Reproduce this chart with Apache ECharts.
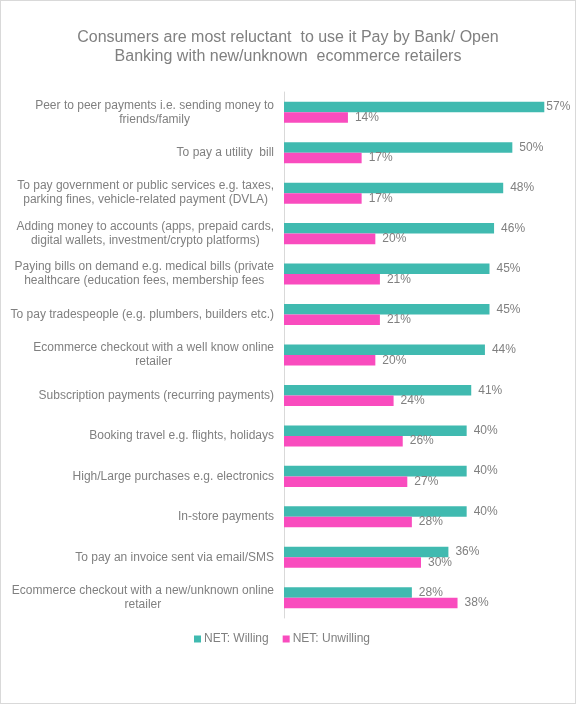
<!DOCTYPE html>
<html>
<head>
<meta charset="utf-8">
<script src="https://cdn.jsdelivr.net/npm/echarts@6/dist/echarts.min.js"></script>
<style>
  html, body { margin: 0; padding: 0; background: #fff; }
  #wrap { width: 576px; height: 704px; box-sizing: border-box; border: 1px solid #d9d9d9; }
  #chart { width: 574px; height: 702px; }
</style>
</head>
<body>
<div id="wrap"><div id="chart"></div></div>
<script>
// categories, top to bottom as in the picture
var categories = [
  'Peer to peer payments i.e. sending money to\nfriends/family',
  'To pay a utility  bill',
  'To pay government or public services e.g. taxes,\nparking fines, vehicle-related payment (DVLA)',
  'Adding money to accounts (apps, prepaid cards,\ndigital wallets, investment/crypto platforms)',
  'Paying bills on demand e.g. medical bills (private\nhealthcare (education fees, membership fees',
  'To pay tradespeople (e.g. plumbers, builders etc.)',
  'Ecommerce checkout with a well know online\nretailer',
  'Subscription payments (recurring payments)',
  'Booking travel e.g. flights, holidays',
  'High/Large purchases e.g. electronics',
  'In-store payments',
  'To pay an invoice sent via email/SMS',
  'Ecommerce checkout with a new/unknown online\nretailer'
];
var willing   = [57, 50, 48, 46, 45, 45, 44, 41, 40, 40, 40, 36, 28];
var unwilling = [14, 17, 17, 20, 21, 21, 20, 24, 26, 27, 28, 30, 38];

var grey = '#808080';
var font = 'Liberation Sans, Arial, sans-serif';

function valueLabel() {
  return { show: true, position: 'right', distance: 7, formatter: '{c}%', fontSize: 12, color: grey, fontFamily: font };
}

// the longest bar's label sits tight against the bar so it fits in the frame
var willingData = willing.map(function (v, i) {
  return i === 0 ? { value: v, label: { distance: 2 } } : v;
});

var chart = echarts.init(document.getElementById('chart'));
chart.setOption({
  animation: false,
  textStyle: { fontFamily: font },
  title: {
    text: 'Consumers are most reluctant  to use it Pay by Bank/ Open\nBanking with new/unknown  ecommerce retailers',
    left: 'center',
    top: 22,
    textStyle: { fontSize: 16, fontWeight: 'normal', color: grey, lineHeight: 19, fontFamily: font }
  },
  legend: {
    data: ['NET: Willing', 'NET: Unwilling'],
    left: 188,
    top: 627,
    icon: 'rect',
    itemWidth: 7,
    itemHeight: 7,
    itemGap: 14,
    textStyle: { fontSize: 12, color: grey, fontFamily: font, padding: [0, 0, 0, -2] }
  },
  grid: { left: 283, top: 91, width: 274, height: 526, containLabel: false },
  xAxis: {
    type: 'value',
    min: 0,
    max: 60,
    show: false
  },
  yAxis: {
    type: 'category',
    inverse: true,
    data: categories,
    axisTick: { show: false },
    axisLine: { show: true, lineStyle: { color: '#d9d9d9', width: 1 } },
    axisLabel: {
      margin: 10,
      align: 'right',
      formatter: function (v) {
        return v.split('\n').map(function (s) { return '{c|' + s + '}'; }).join('\n');
      },
      rich: {
        c: { align: 'center', fontSize: 12, lineHeight: 14, color: grey, fontFamily: font }
      }
    }
  },
  series: [
    {
      name: 'NET: Willing',
      type: 'bar',
      data: willingData,
      barCategoryGap: '48%',
      barGap: '0%',
      itemStyle: { color: '#40bab0' },
      label: valueLabel()
    },
    {
      name: 'NET: Unwilling',
      type: 'bar',
      data: unwilling,
      barCategoryGap: '48%',
      barGap: '0%',
      itemStyle: { color: '#f94cbe' },
      label: valueLabel()
    }
  ]
});
</script>
</body>
</html>
